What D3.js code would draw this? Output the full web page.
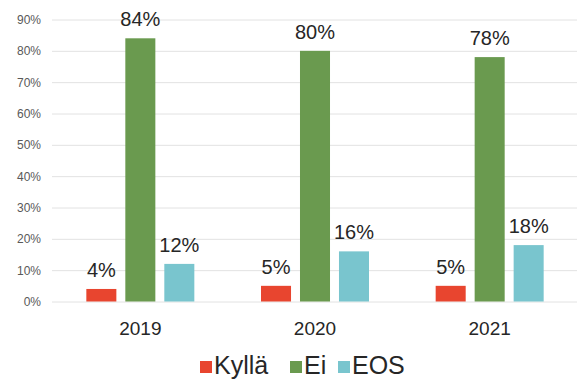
<!DOCTYPE html>
<html>
<head>
<meta charset="utf-8">
<script src="https://cdn.jsdelivr.net/npm/d3@7"></script>
<style>
  body { margin: 0; background: #fff; }
  text { font-family: "Liberation Sans", Arial, sans-serif; }
</style>
</head>
<body>
<div id="chart"></div>
<script>
// data
years = ["2019", "2020", "2021"]
series = ["Kyllä", "Ei", "EOS"]
kylla = [4, 5, 5]
ei = [84, 80, 78]
eos = [12, 16, 18]
yTicks = [0, 10, 20, 30, 40, 50, 60, 70, 80, 90]
colors = ["#E8452F", "#6A9A4F", "#79C5CE"]

values = [kylla, ei, eos]

width = 577
height = 379

svg = d3.select("#chart").append("svg")
  .attr("width", width)
  .attr("height", height)

x0 = d3.scaleBand()
  .domain(years)
  .range([53, 577])
  .padding(0)

x1 = d3.scaleBand()
  .domain(series)
  .range([0, x0.bandwidth()])
  .paddingInner(0.23)
  .paddingOuter(0.855)

y = d3.scaleLinear()
  .domain([0, 90])
  .range([301.5, 19.5])

color = d3.scaleOrdinal().domain(series).range(colors)

// gridlines + tick labels
yAxis = svg.append("g")
  .attr("transform", "translate(52,0)")
  .call(d3.axisLeft(y).tickValues(yTicks).tickFormat(d => d + "%").tickSize(-525).tickPadding(11))
yAxis.select(".domain").remove()
yAxis.selectAll("line").attr("stroke", "#e2e2e2").attr("stroke-width", 1)
yAxis.selectAll("text")
  .attr("fill", "#595959")
  .style("font-size", "12px")

// bars
groups = svg.selectAll("g.year")
  .data(years)
  .join("g")
  .attr("class", "year")
  .attr("transform", d => "translate(" + x0(d) + ",0)")

groups.selectAll("rect")
  .data((d, i) => series.map((s, j) => ({s: s, v: values[j][i]})))
  .join("rect")
  .attr("x", d => x1(d.s))
  .attr("y", d => y(d.v))
  .attr("width", x1.bandwidth())
  .attr("height", d => y(0) - y(d.v))
  .attr("fill", d => color(d.s))

groups.selectAll("text.val")
  .data((d, i) => series.map((s, j) => ({s: s, v: values[j][i]})))
  .join("text")
  .attr("class", "val")
  .attr("x", d => x1(d.s) + x1.bandwidth() / 2)
  .attr("y", d => y(d.v) - 12)
  .attr("text-anchor", "middle")
  .attr("fill", "#262626")
  .style("font-size", "20px")
  .text(d => d.v + "%")

// year labels
svg.append("g").selectAll("text")
  .data(years)
  .join("text")
  .attr("x", d => x0(d) + x0.bandwidth() / 2)
  .attr("y", 335)
  .attr("text-anchor", "middle")
  .attr("fill", "#262626")
  .style("font-size", "19px")
  .text(d => d)

// legend
legendX = [200, 290, 338]
legend = svg.append("g").selectAll("g")
  .data(series)
  .join("g")
  .attr("transform", (d, i) => "translate(" + legendX[i] + ",361)")

legend.append("rect")
  .attr("width", 12)
  .attr("height", 12)
  .attr("fill", d => color(d))

legend.append("text")
  .attr("x", 14)
  .attr("y", 13)
  .attr("fill", "#262626")
  .style("font-size", "25px")
  .text(d => d)
</script>
</body>
</html>
